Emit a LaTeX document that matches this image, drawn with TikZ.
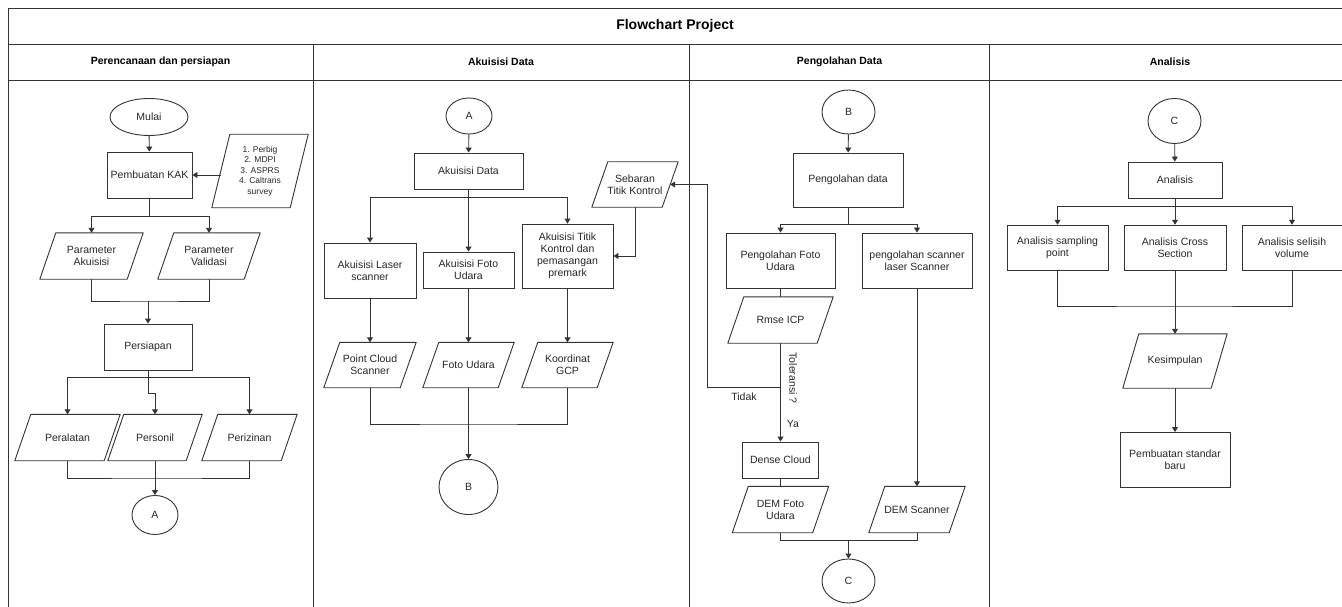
\documentclass[tikz,border=0pt]{standalone}
\usepackage{fontspec}
\setmainfont{Liberation Sans}
\usepackage{tikz}
\usetikzlibrary{shapes.geometric}
\usetikzlibrary{arrows.meta}

\begin{document}
\begin{tikzpicture}[x=1pt, y=-1pt,
  every node/.style={font=\fontsize{10.5}{12}\selectfont, text=black!85},
  line/.style={draw=black!80, line width=0.9pt},
  arr/.style={line, -{Triangle[length=5pt,width=6pt]}},
  proc/.style={draw=black!80, line width=0.9pt, rectangle, align=center, inner sep=1pt},
  para/.style={rectangle, align=center, inner sep=1pt,
    append after command={\pgfextra{\draw[line, line join=round]
      ([xshift=#1]\tikzlastnode.north west) -- (\tikzlastnode.north east) --
      ([xshift=-#1]\tikzlastnode.south east) -- (\tikzlastnode.south west) -- cycle;}}},
  para/.default=16pt,
  conn/.style={draw=black!80, line width=0.9pt, ellipse, inner sep=0pt},
  lane/.style={font=\bfseries\fontsize{10.5}{12}\selectfont, text=black}
]

\path[use as bounding box, clip] (0,0) rectangle (1342,607);

% pool and lanes
\draw[line] (8,8) rectangle (1351,640);
\draw[line] (8,44) -- (1351,44);
\draw[line] (8,80.5) -- (1351,80.5);
\draw[line] (313,44) -- (313,640);
\draw[line] (689.5,44) -- (689.5,640);
\draw[line] (989.5,44) -- (989.5,640);

\node[font=\bfseries\fontsize{14}{16}\selectfont, text=black] (judul) at (675,26) {Flowchart Project};
\node[lane] (lane1) at (160.5,62) {Perencanaan dan persiapan};
\node[lane] (lane2) at (501,62) {Akuisisi Data};
\node[lane] (lane3) at (839.5,62) {Pengolahan Data};
\node[lane] (lane4) at (1170,62) {Analisis};

% perencanaan dan persiapan
\node[conn, minimum width=78pt, minimum height=37pt] (mulai) at (149,117) {Mulai};
\node[proc, minimum width=85pt, minimum height=46pt] (kak) at (149.5,175) {Pembuatan KAK};
\node[para=18pt, minimum width=96pt, minimum height=73pt, font=\fontsize{8.5}{10.5}\selectfont] (acuan) at (260,171) {1. Perbig\\2. MDPI\\3. ASPRS\\4. Caltrans\\survey};
\node[para, minimum width=103pt, minimum height=46pt] (parakuisisi) at (91.5,256) {Parameter\\Akuisisi};
\node[para, minimum width=102pt, minimum height=46pt] (parvalidasi) at (209,256) {Parameter\\Validasi};
\node[proc, minimum width=88pt, minimum height=46pt] (persiapan) at (148,347) {Persiapan};
\node[para, minimum width=105pt, minimum height=46pt] (peralatan) at (67.5,437.5) {Peralatan};
\node[para, minimum width=94pt, minimum height=46pt] (personil) at (155,437.5) {Personil};
\node[para, minimum width=95pt, minimum height=46pt] (perizinan) at (249.5,437.5) {Perizinan};
\node[conn, minimum width=46pt, minimum height=39pt] (conA1) at (155,515) {A};

\draw[arr] (mulai) -- (kak);
\draw[arr] ([xshift=9pt]acuan.west |- kak.east) -- (kak.east);
\draw[arr] (kak.south) -- ++(0,17.6) -| (parakuisisi.north);
\draw[arr] (kak.south) -- ++(0,17.6) -| (parvalidasi.north);
\coordinate (m1) at (148,301);
\draw[line] (parakuisisi.south) |- (m1) -| (parvalidasi.south);
\draw[arr] (m1) -- (persiapan.north);
\coordinate (s2) at (148,377.5);
\draw[line] (persiapan.south) -- (s2);
\draw[arr] (s2) -| (peralatan.north);
\draw[arr] (s2) -| (perizinan.north);
\draw[arr] (s2) -- ++(0,15.5) -| (personil.north);
\coordinate (m2) at (155,478);
\draw[line] (peralatan.south) |- (m2) -| (perizinan.south);
\draw[arr] (personil.south) -- (conA1.north);

% akuisisi data
\node[conn, minimum width=46pt, minimum height=36pt] (conA2) at (469,116) {A};
\node[proc, minimum width=109pt, minimum height=36pt] (akuisisi) at (468.5,171) {Akuisisi Data};
\node[proc, minimum width=92pt, minimum height=55pt] (laser) at (370,270.5) {Akuisisi Laser\\scanner};
\node[proc, minimum width=91pt, minimum height=36pt] (foto) at (468.5,270) {Akuisisi Foto\\Udara};
\node[proc, minimum width=91pt, minimum height=64pt] (titik) at (567.5,256) {Akuisisi Titik\\Kontrol dan\\pemasangan\\premark};
\node[para, minimum width=86pt, minimum height=45pt] (sebaran) at (635,184.5) {Sebaran\\Titik Kontrol};
\node[para, minimum width=92pt, minimum height=45pt] (pcs) at (370,365) {Point Cloud\\Scanner};
\node[para, minimum width=91pt, minimum height=45pt] (fotoudara) at (468.5,365) {Foto Udara};
\node[para, minimum width=91pt, minimum height=45pt] (gcp) at (567.5,365) {Koordinat\\GCP};
\node[conn, minimum width=59pt, minimum height=55pt] (conB1) at (468.5,487) {B};

\draw[arr] (conA2) -- (akuisisi);
\coordinate (s3) at (468.5,197.7);
\draw[line] (akuisisi.south) -- (s3);
\draw[arr] (s3) -| (laser.north);
\draw[arr] (s3) -- (foto.north);
\draw[arr] (s3) -| (titik.north);
\draw[arr] (sebaran.south) |- (titik.east);
\draw[arr] (laser) -- (pcs);
\draw[arr] (foto) -- (fotoudara);
\draw[arr] (titik) -- (gcp);
\coordinate (m3) at (468.5,424);
\draw[line] (pcs.south) |- (m3) -| (gcp.south);
\draw[arr] (fotoudara.south) -- (conB1.north);

% pengolahan data
\node[conn, minimum width=53pt, minimum height=44pt] (conB2) at (848.5,112) {B};
\node[proc, minimum width=110pt, minimum height=54pt] (olah) at (848,180) {Pengolahan data};
\node[proc, minimum width=109pt, minimum height=55pt] (olahfoto) at (780.5,260.5) {Pengolahan Foto\\Udara};
\node[proc, minimum width=110pt, minimum height=55pt] (olahscan) at (917,260.5) {pengolahan scanner\\laser Scanner};
\node[para, minimum width=105pt, minimum height=46pt] (rmse) at (780.5,320) {Rmse ICP};
\node[proc, minimum width=76pt, minimum height=36pt] (dense) at (780.5,460) {Dense Cloud};
\node[para, minimum width=96pt, minimum height=46pt] (demfoto) at (780.5,509.5) {DEM Foto\\Udara};
\node[para, minimum width=96pt, minimum height=46pt] (demscan) at (917,509.5) {DEM Scanner};
\node[conn, minimum width=53pt, minimum height=44pt] (conC1) at (848.5,581) {C};

\draw[arr] (conB2) -- (olah);
\coordinate (s4) at (848,224.3);
\draw[line] (olah.south) -- (s4);
\draw[arr] (s4) -| (olahfoto.north);
\draw[arr] (s4) -| (olahscan.north);
\draw[line] (olahfoto) -- (rmse);
\draw[arr] (rmse) -- (dense);
\node[rotate=-90] (toleransi) at (793,378) {Toleransi ?};
\node (ya) at (793,424) {Ya};
\coordinate (t1) at (780.5,387.3);
\draw[arr] (t1) -- ++(-73.5,0) |- ([xshift=-8pt]sebaran.east);
\node (tidak) at (744,397) {Tidak};
\draw[line] (dense) -- (demfoto);
\draw[arr] (olahscan) -- (demscan);
\coordinate (m4) at (848.5,540.7);
\draw[line] (demfoto.south) |- (m4) -| (demscan.south);
\draw[arr] (m4) -- (conC1.north);

% analisis
\node[conn, minimum width=53pt, minimum height=45pt] (conC2) at (1174.5,121) {C};
\node[proc, minimum width=94pt, minimum height=36pt] (analisis) at (1175,180) {Analisis};
\node[proc, minimum width=101pt, minimum height=45pt] (sampling) at (1057.5,247.7) {Analisis sampling\\point};
\node[proc, minimum width=102pt, minimum height=45pt] (cross) at (1175,247.7) {Analisis Cross\\Section};
\node[proc, minimum width=100pt, minimum height=45pt] (selisih) at (1292,247.7) {Analisis selisih\\volume};
\node[para, minimum width=104pt, minimum height=54pt] (kesimpulan) at (1175,361) {Kesimpulan};
\node[proc, minimum width=110pt, minimum height=55pt] (standar) at (1175,460) {Pembuatan standar\\baru};

\draw[arr] (conC2) -- (analisis);
\coordinate (s5) at (1175,206.5);
\draw[line] (analisis.south) -- (s5);
\draw[arr] (s5) -| (sampling.north);
\draw[arr] (s5) -- (cross.north);
\draw[arr] (s5) -| (selisih.north);
\coordinate (m5) at (1175,306);
\draw[line] (sampling.south) |- (m5) -| (selisih.south);
\draw[arr] (cross) -- (kesimpulan);
\draw[arr] (kesimpulan) -- (standar);

\end{tikzpicture}
\end{document}
